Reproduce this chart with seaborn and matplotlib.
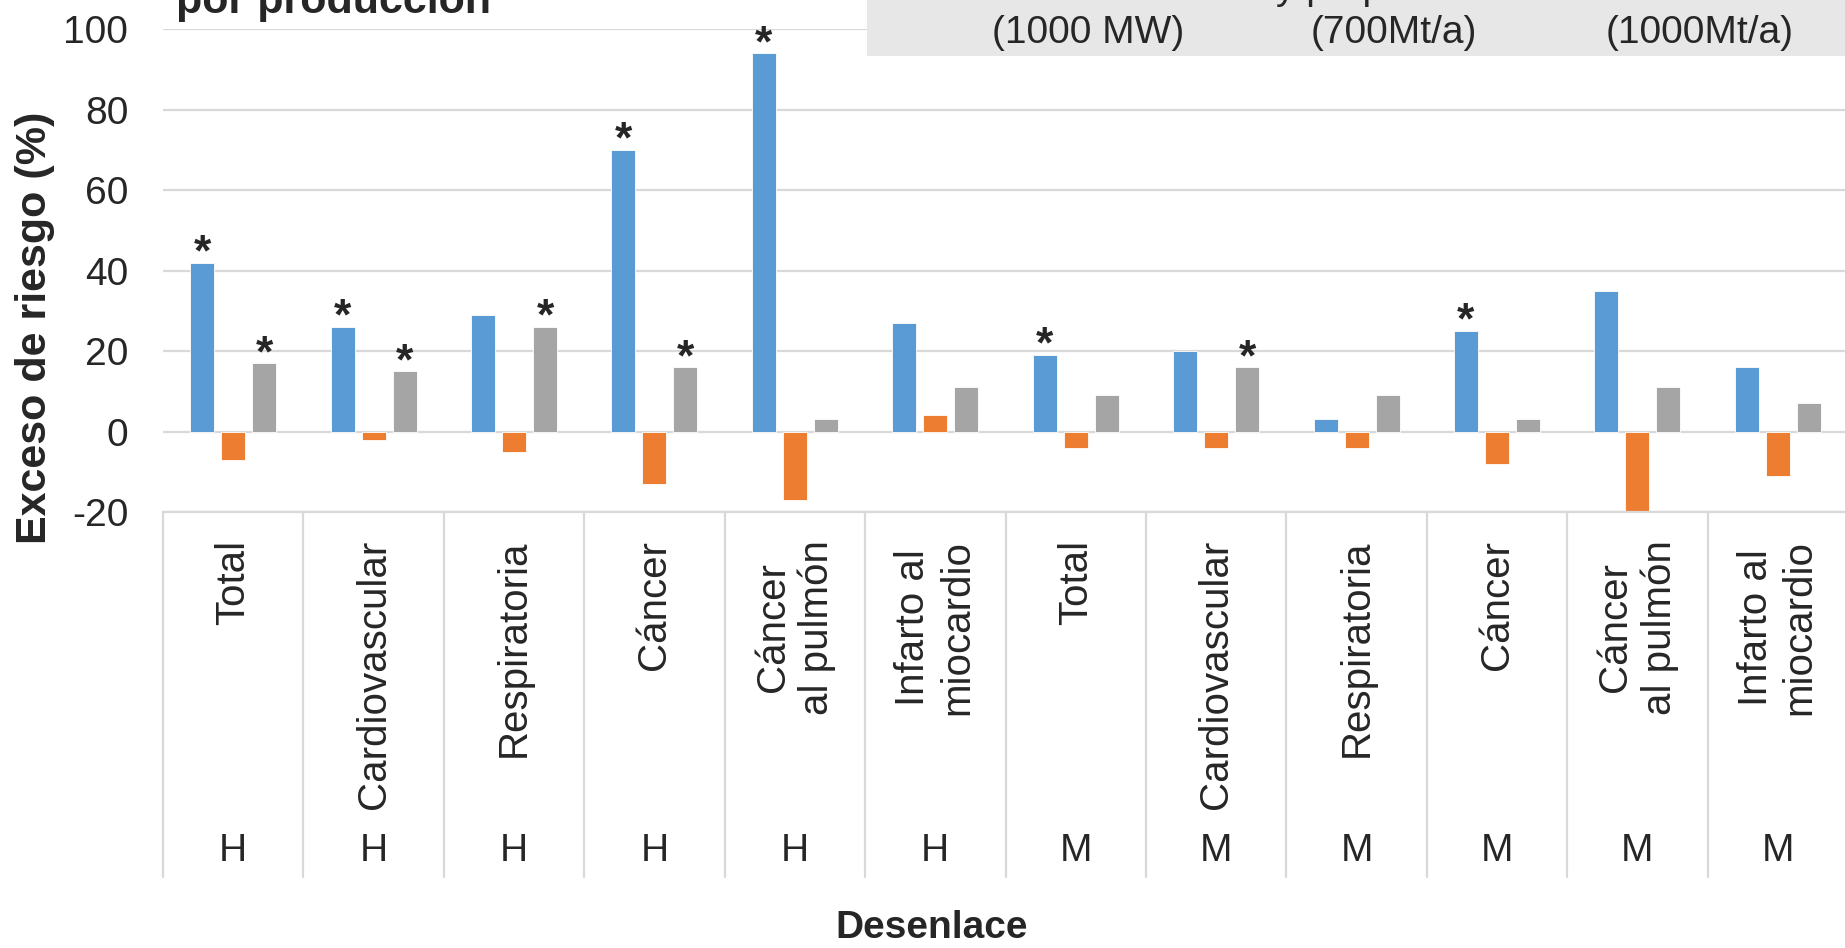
import numpy as np
import pandas as pd
import matplotlib
matplotlib.use('Agg')
import matplotlib.pyplot as plt
from matplotlib.patches import Rectangle
import seaborn as sns

# datos del grafico
desenlaces = ['Total', 'Cardiovascular', 'Respiratoria', 'Cáncer', 'Cáncer\nal pulmón', 'Infarto al\nmiocardio',
              'Total', 'Cardiovascular', 'Respiratoria', 'Cáncer', 'Cáncer\nal pulmón', 'Infarto al\nmiocardio']
sexo = ['H', 'H', 'H', 'H', 'H', 'H', 'M', 'M', 'M', 'M', 'M', 'M']

series = ['Planta eléctrica\n(1000 MW)',
          'Minería de carbón\ny preparación\n(700Mt/a)',
          'Consumo de carbón\n(1000Mt/a)']

serie1 = [42, 26, 29, 70, 94, 27, 19, 20, 3, 25, 35, 16]
serie2 = [-7, -2, -5, -13, -17, 4, -4, -4, -4, -8, -20, -11]
serie3 = [17, 15, 26, 16, 3, 11, 9, 16, 9, 3, 11, 7]

sig1 = [1, 1, 0, 1, 1, 0, 1, 0, 0, 1, 0, 0]
sig2 = [0, 0, 0, 0, 0, 0, 0, 0, 0, 0, 0, 0]
sig3 = [1, 1, 1, 1, 0, 0, 0, 1, 0, 0, 0, 0]

colores = ['#5B9BD5', '#ED7D31', '#A5A5A5']

claves = [s + '_' + str(i) for i, s in enumerate(sexo)]
rows = []
for serie, vals in zip(series, [serie1, serie2, serie3]):
    for k, v in zip(claves, vals):
        rows.append({'clave': k, 'serie': serie, 'valor': v})
df = pd.DataFrame(rows)

sns.set_theme(style='white')
plt.rcParams['font.family'] = ['Liberation Sans', 'DejaVu Sans']
plt.rcParams['axes.unicode_minus'] = False

W, H = 1845, 948
fig = plt.figure(figsize=(W / 100, H / 100), dpi=100)
ax = fig.add_axes([163 / W, (H - 512) / H, 1685 / W, (512 - 29.3) / H])

sns.barplot(data=df, x='clave', y='valor', hue='serie', order=claves, hue_order=series,
            palette=colores, width=0.663, gap=0.226, errorbar=None, legend=False,
            edgecolor='white', linewidth=0.6, saturation=1, ax=ax)

ax.set_ylim(-20, 100)
ax.set_xlim(-0.5, len(claves) - 0.5)
ax.set_yticks(np.arange(-20, 101, 20))
ax.grid(axis='y', color='#d9d9d9', linewidth=1.6)
ax.set_axisbelow(True)
for s in ['left', 'right', 'top']:
    ax.spines[s].set_visible(False)
ax.spines['bottom'].set_color('#d9d9d9')
ax.spines['bottom'].set_linewidth(1.6)
ax.set_xlabel('')
ax.set_ylabel('')

ax.set_xticks(range(len(claves)))
ax.set_xticklabels(desenlaces, rotation=90, fontsize=29, va='top', ha='center', multialignment='center')
ax.tick_params(axis='x', length=0, pad=20)
ax.tick_params(axis='y', length=0, pad=25, labelsize=28)

# separadores de categorias y sexo
tr = ax.get_xaxis_transform()
for k in range(len(claves) + 1):
    ax.plot([k - 0.5, k - 0.5], [0, -0.756], transform=tr, color='#d9d9d9', lw=1.6, clip_on=False)
for i, s in enumerate(sexo):
    ax.text(i, -0.703, s, transform=tr, ha='center', va='center', fontsize=28)

# asteriscos de significancia
for cont, sig in zip(ax.containers, [sig1, sig2, sig3]):
    for bar, flag in zip(cont, sig):
        if flag:
            xc = bar.get_x() + bar.get_width() / 2
            ax.annotate('*', (xc, bar.get_y() + bar.get_height()), xytext=(0, -2),
                        textcoords='offset points', ha='center', va='baseline',
                        fontsize=32, fontweight='bold')

# titulo (cortado arriba)
fig.text(176 / W, (H - 13) / H, 'por producción', fontsize=31, fontweight='bold', va='baseline')

# leyenda (cortada arriba)
fig.add_artist(Rectangle((867 / W, (H - 56) / H), 1, 1, transform=fig.transFigure,
                         facecolor='#e7e7e7', edgecolor='none', zorder=2))
for xc, lab in zip([1088, 1394, 1700], series):
    fig.text(xc / W, (H - 43) / H, lab, ha='center', va='baseline', multialignment='center',
             fontsize=28, linespacing=1.3, zorder=3)

fig.text(35 / W, (H - 328) / H, 'Exceso de riesgo (%)', rotation=90, ha='center', va='center',
         fontsize=31, fontweight='bold')
fig.text(932 / W, (H - 928) / H, 'Desenlace', ha='center', va='center', fontsize=28, fontweight='bold')

fig.savefig('out.png', dpi=100)
